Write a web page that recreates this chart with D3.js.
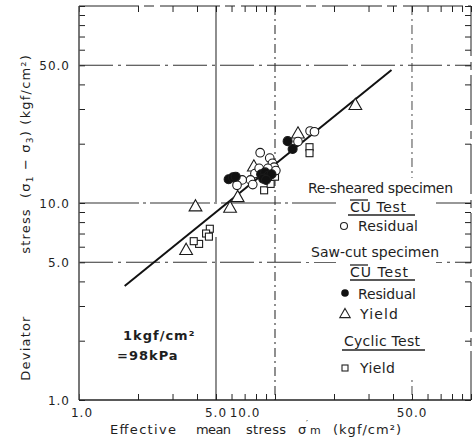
<!DOCTYPE html>
<html><head><meta charset="utf-8">
<script src="https://cdn.jsdelivr.net/npm/d3@7"></script>
<style>
body{margin:0;background:#fff}
svg{display:block}
text{font-family:"DejaVu Sans",sans-serif;fill:#1e1e1e}
</style>
</head><body>
<svg id="chart" width="473" height="441"></svg>
<script>
// Effective mean stress p' (kgf/cm²) and deviator stress q (kgf/cm²) for each test group
const reshearedResidualP = [8.4, 9.4, 9.7, 9.9, 7.9, 7.5, 7.7, 6.8, 6.4, 9.2, 10.1, 8.3, 13.1, 15.1, 15.9];
const reshearedResidualQ = [18.0, 16.9, 15.9, 15.2, 14.1, 13.1, 12.4, 13.1, 12.3, 15.0, 14.6, 15.0, 20.5, 23.2, 23.0];

const sawcutResidualP = [5.8, 6.1, 6.3, 8.5, 8.9, 9.3, 8.7, 9.6, 9.0, 11.6, 12.3];
const sawcutResidualQ = [13.2, 13.5, 13.6, 14.0, 14.3, 13.8, 13.3, 14.0, 13.1, 20.6, 18.8];

const sawcutYieldP = [3.93, 5.9, 6.45, 3.52, 7.8, 13.1, 25.7];
const sawcutYieldQ = [9.6, 9.45, 10.7, 5.77, 15.3, 22.5, 31.4];

const cyclicYieldP = [4.65, 4.45, 4.6, 4.1, 3.85, 8.8, 9.5, 10.0, 15.0, 15.0];
const cyclicYieldQ = [7.4, 7.0, 6.75, 6.2, 6.4, 11.6, 12.5, 13.6, 19.2, 17.9];

// Fitted strength line (end points)
const fitP = [1.71, 39.3];
const fitQ = [3.79, 47.3];

// Axis ticks
const majorTicks = [1, 5, 10, 50];
const xTickLabels = ["1.0", "5.0", "10.0", "50.0"];
const yTickLabels = ["1.0", "5.0", "10.0", "50.0"];

const svg = d3.select("#chart");
const x = d3.scaleLog().domain([1, 100]).range([79, 471]);
const y = d3.scaleLog().domain([1, 100]).range([400, 6]);

const allTicks = [];
for (let k = 0; k < 2; k++) for (let m = 1; m <= 9; m++) allTicks.push(m * Math.pow(10, k));
allTicks.push(100);

const ink = "#222";

// Reference lines at 5, 10, 50
const grid = svg.append("g").attr("stroke", "#333").attr("fill", "none");
grid.selectAll("line.h").data([5, 10, 50]).join("line")
  .attr("x1", x(1)).attr("x2", x(100))
  .attr("y1", d => y(d)).attr("y2", d => y(d))
  .attr("stroke-width", 1.1)
  .attr("stroke-dasharray", d => d === 10 ? "60,4,3,4" : "34,5,3,5");
grid.selectAll("line.v").data([5, 10, 50]).join("line")
  .attr("y1", y(100)).attr("y2", y(1))
  .attr("x1", d => x(d)).attr("x2", d => x(d))
  .attr("stroke-width", d => d === 50 ? 0.9 : 1.1)
  .attr("stroke-dasharray", d => d === 5 ? "196,35,400" : "9,4,2,4");

// Frame ticks pointing inward on all four sides
const tickLen = 6;
function styleAxis(g) {
  g.selectAll("path").remove();
  g.selectAll("line").attr("stroke", ink).attr("stroke-width", 1);
  g.selectAll("text").remove();
}
svg.append("g").attr("transform", `translate(0,${y(1)})`)
  .call(d3.axisBottom(x).tickValues(allTicks).tickSize(-tickLen)).call(styleAxis);
svg.append("g").attr("transform", `translate(0,${y(100)})`)
  .call(d3.axisTop(x).tickValues(allTicks).tickSize(-tickLen)).call(styleAxis);
svg.append("g").attr("transform", `translate(${x(1)},0)`)
  .call(d3.axisLeft(y).tickValues(allTicks).tickSize(-tickLen)).call(styleAxis);
svg.append("g").attr("transform", `translate(${x(100)},0)`)
  .call(d3.axisRight(y).tickValues(allTicks).tickSize(-tickLen)).call(styleAxis);

// Frame
svg.append("line").attr("x1", x(1)).attr("x2", x(1)).attr("y1", y(100)).attr("y2", y(1)).attr("stroke", "#555").attr("stroke-width", 1.6);
svg.append("line").attr("x1", x(1)).attr("x2", x(100)).attr("y1", y(1)).attr("y2", y(1)).attr("stroke", ink).attr("stroke-width", 1.4);
svg.append("line").attr("x1", x(1)).attr("x2", x(100)).attr("y1", y(100)).attr("y2", y(100)).attr("stroke", ink).attr("stroke-width", 1).attr("stroke-dasharray", "60,5,10,6");
svg.append("line").attr("x1", x(100)).attr("x2", x(100)).attr("y1", y(100)).attr("y2", y(1)).attr("stroke", ink).attr("stroke-width", 1).attr("stroke-dasharray", "50,6,8,5");

// Tick labels
const tickFont = 12;
svg.append("g").selectAll("text").data(majorTicks).join("text")
  .attr("x", d => x(d) + (d === 10 ? -30 : (d === 1 ? 3 : 0)))
  .attr("y", 417)
  .attr("text-anchor", "middle")
  .attr("font-size", tickFont)
  .attr("letter-spacing", 1)
  .text((d, i) => xTickLabels[i]);
svg.append("g").selectAll("text").data(majorTicks).join("text")
  .attr("x", 70)
  .attr("y", d => y(d) + 4.5)
  .attr("text-anchor", "end")
  .attr("font-size", tickFont)
  .attr("letter-spacing", 1)
  .text((d, i) => yTickLabels[i]);

// Axis titles
const xg = svg.append("g").attr("font-size", 13);
function word(x0, x1, s) {
  xg.append("text").attr("x", x0).attr("y", 434).attr("textLength", x1 - x0).attr("lengthAdjust", "spacing").text(s);
}
word(110, 176, "Effective");
word(196, 231, "mean");
word(246, 286, "stress");
xg.append("text").attr("x", 298).attr("y", 434).text("σ");
xg.append("text").attr("x", 306).attr("y", 427).attr("font-size", 9).text("′");
xg.append("text").attr("x", 310).attr("y", 434).attr("font-size", 11).text("m");
word(333, 401, "(kgf/cm²)");

const yt = svg.append("g").attr("font-size", 13).attr("letter-spacing", 1.2);
function vtext(cy, build) {
  const t = yt.append("text").attr("transform", `translate(30,${cy}) rotate(-90)`).attr("text-anchor", "middle");
  build(t);
}
vtext(348, t => t.text("Deviator"));
vtext(231, t => t.text("stress"));
vtext(126, t => {
  t.append("tspan").text("(σ");
  t.append("tspan").attr("font-size", 9).attr("dy", 3).text("1");
  t.append("tspan").attr("dy", -3).text(" − σ");
  t.append("tspan").attr("font-size", 9).attr("dy", 3).text("3");
  t.append("tspan").attr("dy", -3).text(")  (kgf/cm²)");
});

// Unit note
svg.append("text").attr("x", 123).attr("y", 340).attr("font-size", 13).attr("font-weight", "bold").attr("letter-spacing", 1).text("1kgf/cm²");
svg.append("text").attr("x", 117).attr("y", 360).attr("font-size", 13).attr("font-weight", "bold").attr("letter-spacing", 1).text("=98kPa");

// Fitted line
const line = d3.line().x(d => x(d[0])).y(d => y(d[1]));
svg.append("path").datum(d3.zip(fitP, fitQ)).attr("d", line)
  .attr("fill", "none").attr("stroke", "#111").attr("stroke-width", 2);

// Markers
const tri = s => `M0,${-s * 0.62}L${s * 0.58},${s * 0.4}L${-s * 0.58},${s * 0.4}Z`;
const pts = svg.append("g").attr("stroke", "#1a1a1a").attr("stroke-width", 1.1);
pts.selectAll("rect.cy").data(d3.zip(cyclicYieldP, cyclicYieldQ)).join("rect")
  .attr("x", d => x(d[0]) - 3.5).attr("y", d => y(d[1]) - 3.5)
  .attr("width", 7).attr("height", 7).attr("fill", "#fff");
pts.selectAll("path.ty").data(d3.zip(sawcutYieldP, sawcutYieldQ)).join("path")
  .attr("transform", d => `translate(${x(d[0])},${y(d[1])})`)
  .attr("d", tri(11)).attr("fill", "#fff");
pts.selectAll("circle.rr").data(d3.zip(reshearedResidualP, reshearedResidualQ)).join("circle")
  .attr("cx", d => x(d[0])).attr("cy", d => y(d[1])).attr("r", 4.3).attr("fill", "#fff");
pts.selectAll("circle.sr").data(d3.zip(sawcutResidualP, sawcutResidualQ)).join("circle")
  .attr("cx", d => x(d[0])).attr("cy", d => y(d[1])).attr("r", 4.5).attr("fill", "#111");

// Legend
const lg = svg.append("g");
lg.append("rect").attr("x", 336).attr("y", 178).attr("width", 100).attr("height", 202).attr("fill", "#fff");
const legendFont = 14;
function ltext(x0, x1, yb, s) {
  const w = x1 - x0;
  lg.append("rect").attr("x", x0 - 5).attr("y", yb - 14).attr("width", w + 10).attr("height", 19).attr("fill", "#fff");
  return lg.append("text").attr("x", x0).attr("y", yb).attr("font-size", legendFont)
    .attr("textLength", w).attr("lengthAdjust", "spacing").text(s);
}
function rule(x0, x1, yy) {
  lg.append("line").attr("x1", x0).attr("x2", x1).attr("y1", yy).attr("y2", yy)
    .attr("stroke", ink).attr("stroke-width", 1.3);
}
ltext(308, 453, 193, "Re-sheared specimen");
ltext(350, 406, 212, "CU Test");
rule(348, 415, 215); rule(350, 368, 200);
ltext(358, 418, 231, "Residual");
ltext(311, 439, 257, "Saw-cut specimen");
ltext(350, 408, 277, "CU Test");
rule(350, 415, 280); rule(350, 368, 265);
ltext(358, 416, 299, "Residual");
ltext(360, 398, 319, "Yield");
ltext(344, 420, 346, "Cyclic Test");
rule(342, 425, 350);
ltext(360, 395, 373, "Yield");

lg.append("circle").attr("cx", 344).attr("cy", 226).attr("r", 3.5).attr("fill", "#fff").attr("stroke", ink).attr("stroke-width", 1.1);
lg.append("circle").attr("cx", 345).attr("cy", 293).attr("r", 3.8).attr("fill", "#111");
lg.append("path").attr("transform", "translate(345,314)").attr("d", tri(9)).attr("fill", "#fff").attr("stroke", ink).attr("stroke-width", 1.1);
lg.append("rect").attr("x", 342).attr("y", 365).attr("width", 6).attr("height", 6).attr("fill", "#fff").attr("stroke", ink).attr("stroke-width", 1.1);
</script>
</body></html>
